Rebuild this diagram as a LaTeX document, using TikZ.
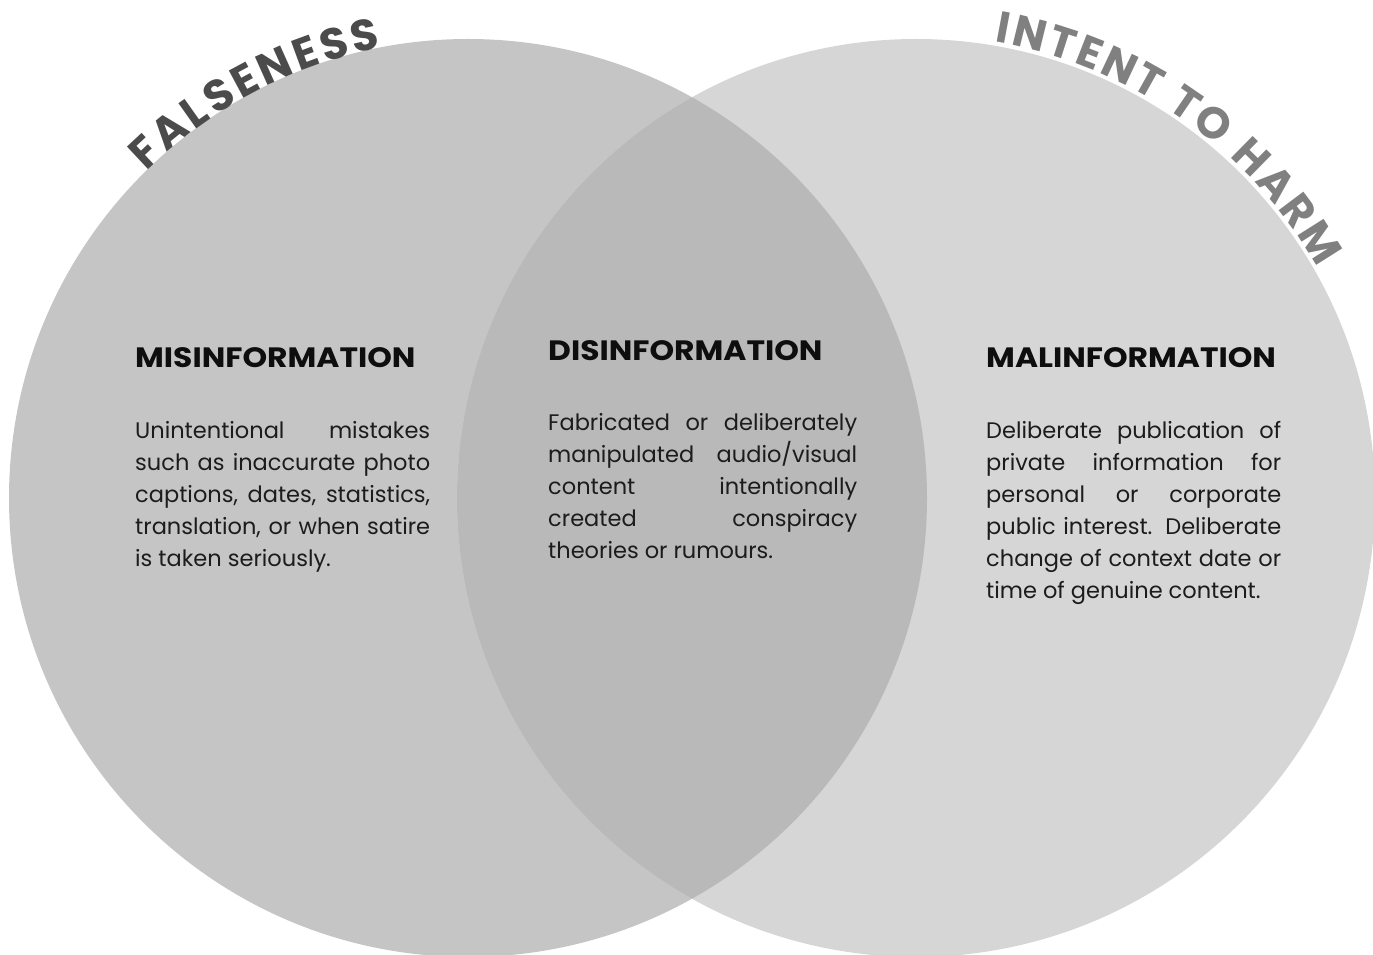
\documentclass[tikz,border=0pt]{standalone}
\usepackage{fontspec}
\setmainfont{Poppins}
\newfontfamily\myheadfont[FakeStretch=1.12]{Poppins}
\usetikzlibrary{decorations.text}
\definecolor{leftc}{HTML}{C5C5C5}
\definecolor{rightc}{HTML}{D5D6D5}
\definecolor{midc}{HTML}{B8B9B8}
\definecolor{falsec}{HTML}{4B4B4B}
\definecolor{harmc}{HTML}{808080}
\definecolor{headc}{HTML}{0E0E0E}
\definecolor{bodyc}{HTML}{1C1C1C}
\newcommand\myarcfont{\fontsize{44}{44}\selectfont\bfseries}
\newcommand\jl[1]{\makebox[\linewidth][s]{#1}\par}
\begin{document}
\begin{tikzpicture}[x=1pt,y=1pt,
  heading/.style={anchor=base west, inner sep=0pt, font=\myheadfont\fontsize{28}{28}\selectfont\bfseries, text=headc},
  bodytext/.style={anchor=base west, inner sep=0pt, align=justify, font=\fontsize{22.5}{32}\selectfont, text=bodyc},
  arctext/.style={decorate, decoration={text along path, text align=fit to path, text={#1}}}
]
\useasboundingbox (0,0) rectangle (1373,954);
\clip (0,0) rectangle (1373,954);
\coordinate (L) at (468,456);
\coordinate (R) at (916,456);
\fill[leftc] (L) circle[radius=459];
\fill[rightc] (R) circle[radius=459];
\begin{scope}
  \clip (L) circle[radius=459];
  \fill[midc] (R) circle[radius=459];
\end{scope}
\path[arctext={|\color{falsec}\myarcfont|FALSENESS}] (L) ++(134.6:458) arc[start angle=134.6, end angle=100.9, radius=458];
\path[arctext={|\color{harmc}\myarcfont|INTENT TO HARM}] (R) ++(80.2:463) arc[start angle=80.2, end angle=29.8, radius=463];
\node[heading] (mis) at (135,586) {MISINFORMATION};
\node[heading] (dis) at (548,593) {DISINFORMATION};
\node[heading] (mal) at (986,586) {MALINFORMATION};
\node[bodytext, text width=295pt] (mistext) at (135,515) {\jl{Unintentional mistakes}\jl{such as inaccurate photo}\jl{captions, dates, statistics,}\jl{translation, or when satire}is taken seriously.};
\node[bodytext, text width=309pt] (distext) at (548,523) {\jl{Fabricated or deliberately}\jl{manipulated audio/visual}\jl{content intentionally}\jl{created conspiracy}theories or rumours.};
\node[bodytext, text width=295pt] (maltext) at (986,515) {\jl{Deliberate publication of}\jl{private information for}\jl{personal or corporate}\jl{public interest. Deliberate}\jl{change of context date or}time of genuine content.};
\end{tikzpicture}
\end{document}
